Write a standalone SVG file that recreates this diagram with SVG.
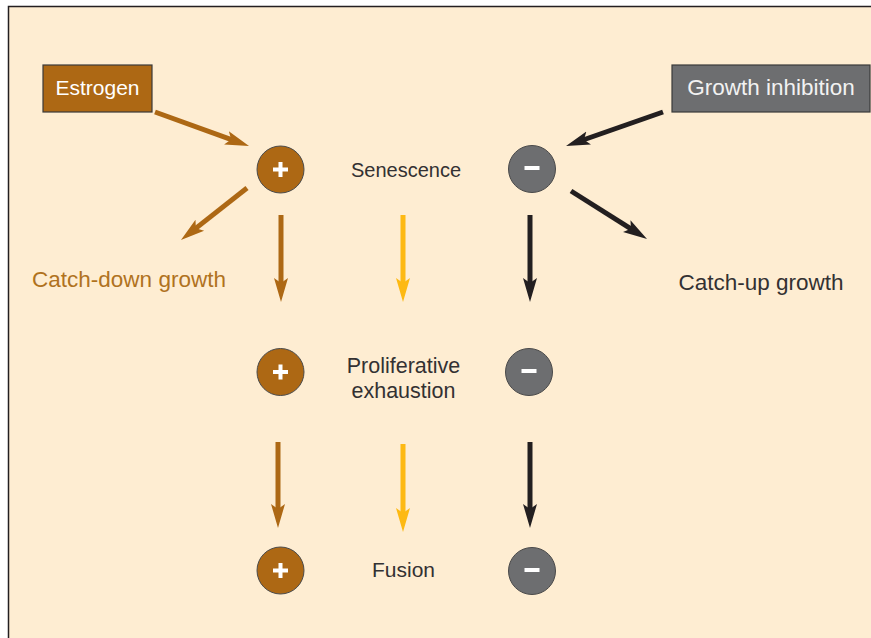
<svg xmlns="http://www.w3.org/2000/svg" width="871" height="638" viewBox="0 0 871 638">
<style>
text{font-family:"Liberation Sans","Open Sans",Arial,sans-serif;}
.lbl{font-size:20px;fill:#333132;text-anchor:middle;}
.box{stroke:#3a3a3a;stroke-width:1.2;}
.pos{fill:#AD6814;stroke:#4a4a4a;stroke-width:1;}
.neg{fill:#6D6E70;stroke:#4a4a4a;stroke-width:1;}
.sym{fill:#ffffff;}
.br{stroke:#AD6814;stroke-width:5;fill:none;}
.ye{stroke:#FDB913;stroke-width:5;fill:none;}
.bk{stroke:#231F20;stroke-width:5;fill:none;}
</style>
<defs>
<marker id="ah-br" markerUnits="userSpaceOnUse" markerWidth="24" markerHeight="16" refX="6" refY="8" orient="auto" viewBox="0 0 24 16"><path d="M0,1 L24,8 L0,15 L5,8 Z" fill="#AD6814"/></marker>
<marker id="ah-ye" markerUnits="userSpaceOnUse" markerWidth="24" markerHeight="16" refX="6" refY="8" orient="auto" viewBox="0 0 24 16"><path d="M0,1 L24,8 L0,15 L5,8 Z" fill="#FDB913"/></marker>
<marker id="ah-bk" markerUnits="userSpaceOnUse" markerWidth="24" markerHeight="16" refX="6" refY="8" orient="auto" viewBox="0 0 24 16"><path d="M0,1 L24,8 L0,15 L5,8 Z" fill="#231F20"/></marker>
</defs>
<rect x="0" y="0" width="871" height="638" fill="#ffffff"/>
<rect x="8.5" y="6.5" width="870" height="640" fill="#FEEDD2"/>
<path d="M8.5,638 L8.5,6.5 L871,6.5" fill="none" stroke="#231F20" stroke-width="1.5"/>

<g id="connectors">
<line class="br" x1="155" y1="112" x2="232.1" y2="139.9" marker-end="url(#ah-br)"/>
<line class="br" x1="247" y1="188" x2="195.1" y2="228.9" marker-end="url(#ah-br)"/>
<line class="bk" x1="663" y1="112" x2="583" y2="140" marker-end="url(#ah-bk)"/>
<line class="bk" x1="571" y1="191" x2="631.8" y2="229.4" marker-end="url(#ah-bk)"/>
<line class="br" x1="281" y1="215" x2="281" y2="284" marker-end="url(#ah-br)"/>
<line class="ye" x1="403" y1="215" x2="403" y2="284" marker-end="url(#ah-ye)"/>
<line class="bk" x1="530" y1="215" x2="530" y2="284" marker-end="url(#ah-bk)"/>
<line class="br" x1="278" y1="442" x2="278" y2="510" marker-end="url(#ah-br)"/>
<line class="ye" x1="403" y1="444" x2="403" y2="514" marker-end="url(#ah-ye)"/>
<line class="bk" x1="530" y1="442" x2="530" y2="510" marker-end="url(#ah-bk)"/>
</g>

<g id="estrogen">
<rect class="box" x="43" y="65" width="109" height="47" fill="#AD6814"/>
<text x="97.5" y="95" font-size="21" fill="#ffffff" text-anchor="middle">Estrogen</text>
</g>
<g id="growth-inhibition">
<rect class="box" x="672" y="65" width="198" height="47" fill="#6D6E70"/>
<text x="771" y="95" font-size="22.5" fill="#F2F2F2" text-anchor="middle">Growth inhibition</text>
</g>

<g id="plus-1"><circle class="pos" cx="280.5" cy="169.5" r="23.5"/><rect class="sym" x="273" y="167.5" width="15" height="4"/><rect class="sym" x="278.5" y="162" width="4" height="15"/></g>
<g id="minus-1"><circle class="neg" cx="532" cy="169" r="23.5"/><rect class="sym" x="524.5" y="166" width="15" height="4"/></g>
<g id="plus-2"><circle class="pos" cx="280.5" cy="372" r="23.5"/><rect class="sym" x="273" y="370" width="15" height="4"/><rect class="sym" x="278.5" y="364.5" width="4" height="15"/></g>
<g id="minus-2"><circle class="neg" cx="529" cy="372" r="23.5"/><rect class="sym" x="521.5" y="369" width="15" height="4"/></g>
<g id="plus-3"><circle class="pos" cx="280.5" cy="570.5" r="23.5"/><rect class="sym" x="273" y="568.5" width="15" height="4"/><rect class="sym" x="278.5" y="563" width="4" height="15"/></g>
<g id="minus-3"><circle class="neg" cx="532" cy="571" r="23.5"/><rect class="sym" x="524.5" y="568" width="15" height="4"/></g>

<g id="senescence"><text class="lbl" x="406" y="177">Senescence</text></g>
<g id="proliferative-exhaustion"><text class="lbl" x="403.5" y="373" style="font-size:21.5px">Proliferative</text><text class="lbl" x="403.5" y="398" style="font-size:21.5px">exhaustion</text></g>
<g id="fusion"><text class="lbl" x="403.5" y="577" style="font-size:21px">Fusion</text></g>
<g id="catch-down"><text class="lbl" x="129" y="287" style="fill:#B0721E;font-size:22.5px">Catch-down growth</text></g>
<g id="catch-up"><text class="lbl" x="761" y="290" style="font-size:22.5px">Catch-up growth</text></g>
</svg>
